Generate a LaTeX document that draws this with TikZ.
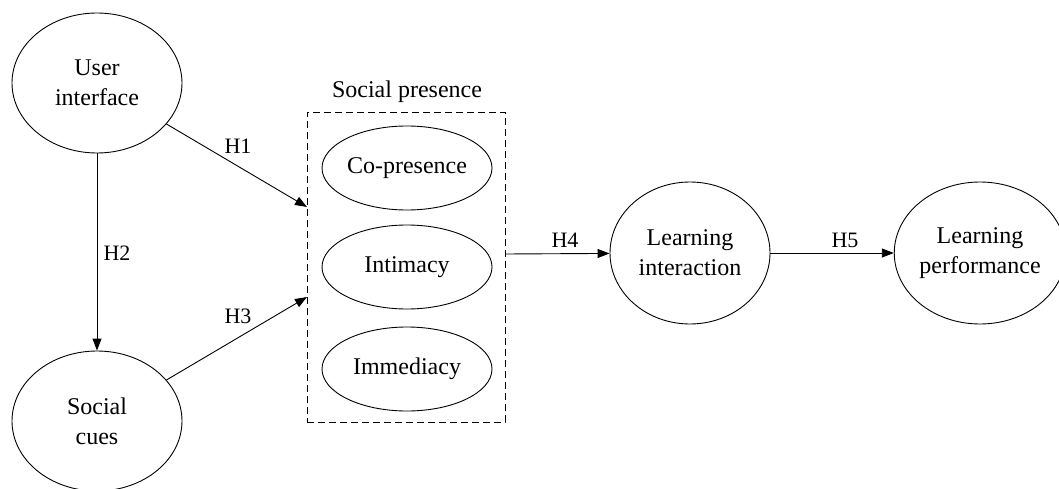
\documentclass[tikz,border=0pt]{standalone}
\usepackage{fontspec}
\setmainfont{Liberation Serif}
\newfontfamily\tnr{Liberation Serif}
\usetikzlibrary{shapes.geometric,arrows.meta}
\begin{document}
\begin{tikzpicture}[x=1pt,y=-1pt,
  every node/.style={font=\tnr\fontsize{24}{30}\selectfont},
  oval/.style={ellipse,draw,line width=0.9pt,inner sep=0pt,align=center},
  big/.style={oval,minimum width=170pt,minimum height=140pt},
  mid/.style={oval,minimum width=160pt,minimum height=142pt},
  small/.style={oval,minimum width=170pt,minimum height=84pt},
  conn/.style={line width=0.9pt,-{Triangle[length=12pt,width=9pt]}},
  lbl/.style={font=\tnr\fontsize{22}{26}\selectfont}]
\useasboundingbox (0,0) rectangle (1059,489);
\node[big] (ui) at (97,83) {User\\interface};
\node[big] (sc) at (97,421) {Social\\cues};
\node[draw,dashed,dash pattern=on 7pt off 4pt,line width=0.9pt,minimum width=198pt,minimum height=310pt,inner sep=0pt] (sp) at (406,267) {};
\node (sptitle) at (407,92) {Social presence};
\node[small] (cp) at (407,168) {Co-presence};
\node[small] (in) at (407,267) {Intimacy};
\node[small] (im) at (407,369) {Immediacy};
\node[mid] (li) at (690,253) {Learning\\interaction};
\node[mid] (lp) at (980,253) {Learning\\performance};
\coordinate (h1end) at (307,207);
\coordinate (h3end) at (307,297);
\coordinate (h4start) at (505,254);
\draw[conn] (ui) -- (sc);
\draw[conn] (ui) -- (h1end);
\draw[conn] (sc) -- (h3end);
\draw[conn] (h4start) -- (li);
\draw[conn] (li) -- (lp);
\node[lbl] (lh1) at (238,146) {H1};
\node[lbl] (lh2) at (117,253) {H2};
\node[lbl] (lh3) at (238,316) {H3};
\node[lbl] (lh4) at (565,240) {H4};
\node[lbl] (lh5) at (845,240) {H5};
\end{tikzpicture}
\end{document}
